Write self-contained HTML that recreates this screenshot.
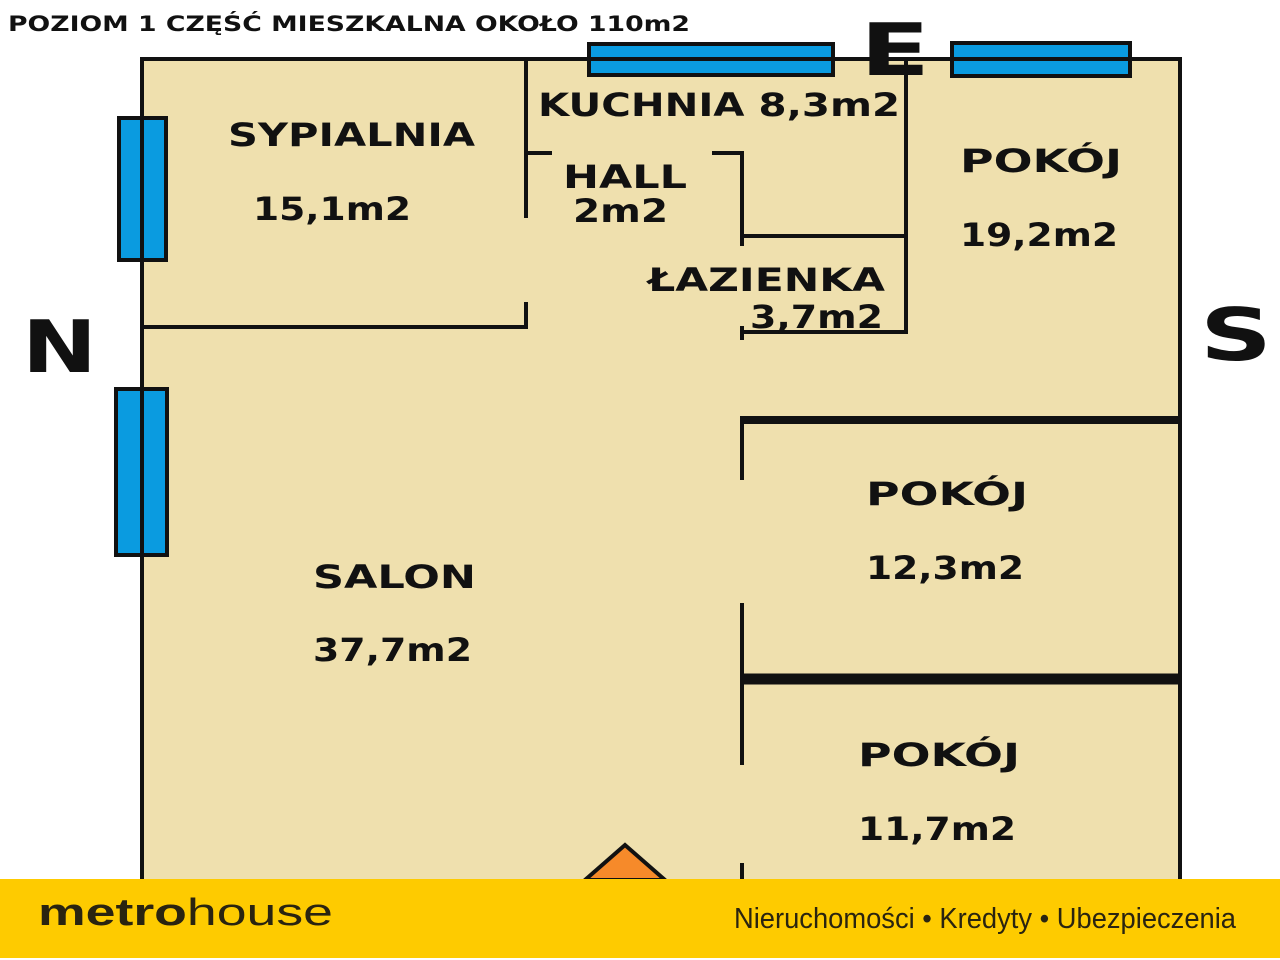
<!DOCTYPE html>
<html><head><meta charset="utf-8"><style>
body{margin:0;width:1280px;height:960px;background:#fff;overflow:hidden;font-family:"Liberation Sans",sans-serif}
svg{position:absolute;left:0;top:0}
.t{font-family:"DejaVu Sans","Liberation Sans",sans-serif;font-weight:bold;fill:#111}
</style></head><body>
<svg width="1280" height="960" viewBox="0 0 1280 960">
<rect x="142" y="59" width="1038" height="830" fill="#efe0ae"/>
<g stroke="#111" stroke-width="4" fill="none">
<path d="M142 890V59H1180V890"/>
<path d="M526 59V218M526 302V327H142"/>
<path d="M526 153H552M712 153H742V246M742 236H906M906 59V332H742M742 326V340"/>
<path d="M742 420V480M742 603V765M742 863V890"/>
</g>
<path d="M740 420H1180" stroke="#111" stroke-width="8"/>
<path d="M740 679H1180" stroke="#111" stroke-width="11"/>
<g fill="#0a9be0" stroke="#111" stroke-width="4">
<rect x="589" y="44" width="244" height="31"/><path d="M589 59H833"/>
<rect x="952" y="43" width="178" height="33"/><path d="M952 59H1130"/>
<rect x="119" y="118" width="47" height="142"/><path d="M142 118V260"/>
<rect x="116" y="389" width="51" height="166"/><path d="M142 389V555"/>
</g>
<path d="M585 880L625 845L665 880Z" fill="#f68a2a" stroke="#111" stroke-width="4"/>
<g lengthAdjust="spacingAndGlyphs">
<text x="8" y="31" class="t" font-size="21" textLength="682" lengthAdjust="spacingAndGlyphs">POZIOM 1 CZĘŚĆ MIESZKALNA OKOŁO 110m2</text>
<text x="860" y="75" class="t" font-size="72" textLength="70" lengthAdjust="spacingAndGlyphs">E</text>
<text x="22" y="372" class="t" font-size="72" textLength="75" lengthAdjust="spacingAndGlyphs">N</text>
<text x="1200" y="360" class="t" font-size="72" textLength="72" lengthAdjust="spacingAndGlyphs">S</text>
</g>
<g class="t" font-size="32">
<text x="228" y="146" textLength="247" lengthAdjust="spacingAndGlyphs">SYPIALNIA</text>
<text x="253" y="220" textLength="158" lengthAdjust="spacingAndGlyphs">15,1m2</text>
<text x="538" y="116" textLength="362" lengthAdjust="spacingAndGlyphs">KUCHNIA 8,3m2</text>
<text x="563" y="188" textLength="124" lengthAdjust="spacingAndGlyphs">HALL</text>
<text x="573" y="222" textLength="95" lengthAdjust="spacingAndGlyphs">2m2</text>
<text x="648" y="291" textLength="237" lengthAdjust="spacingAndGlyphs">ŁAZIENKA</text>
<text x="750" y="328" textLength="133" lengthAdjust="spacingAndGlyphs">3,7m2</text>
<text x="960" y="172" textLength="162" lengthAdjust="spacingAndGlyphs">POKÓJ</text>
<text x="960" y="246" textLength="158" lengthAdjust="spacingAndGlyphs">19,2m2</text>
<text x="866" y="505" textLength="162" lengthAdjust="spacingAndGlyphs">POKÓJ</text>
<text x="866" y="579" textLength="158" lengthAdjust="spacingAndGlyphs">12,3m2</text>
<text x="858" y="766" textLength="162" lengthAdjust="spacingAndGlyphs">POKÓJ</text>
<text x="858" y="840" textLength="158" lengthAdjust="spacingAndGlyphs">11,7m2</text>
<text x="313" y="588" textLength="163" lengthAdjust="spacingAndGlyphs">SALON</text>
<text x="313" y="661" textLength="159" lengthAdjust="spacingAndGlyphs">37,7m2</text>
</g>
<rect x="0" y="879" width="1280" height="79" fill="#fecb00"/>
<text x="38" y="925" font-family="Liberation Sans,sans-serif" font-size="38" fill="#2a2410" textLength="295" lengthAdjust="spacingAndGlyphs"><tspan font-weight="bold">metro</tspan><tspan>house</tspan></text>
<text x="734" y="928" font-family="Liberation Sans,sans-serif" font-size="29" fill="#2a2410" textLength="502" lengthAdjust="spacingAndGlyphs">Nieruchomości • Kredyty • Ubezpieczenia</text>
</svg>
</body></html>
